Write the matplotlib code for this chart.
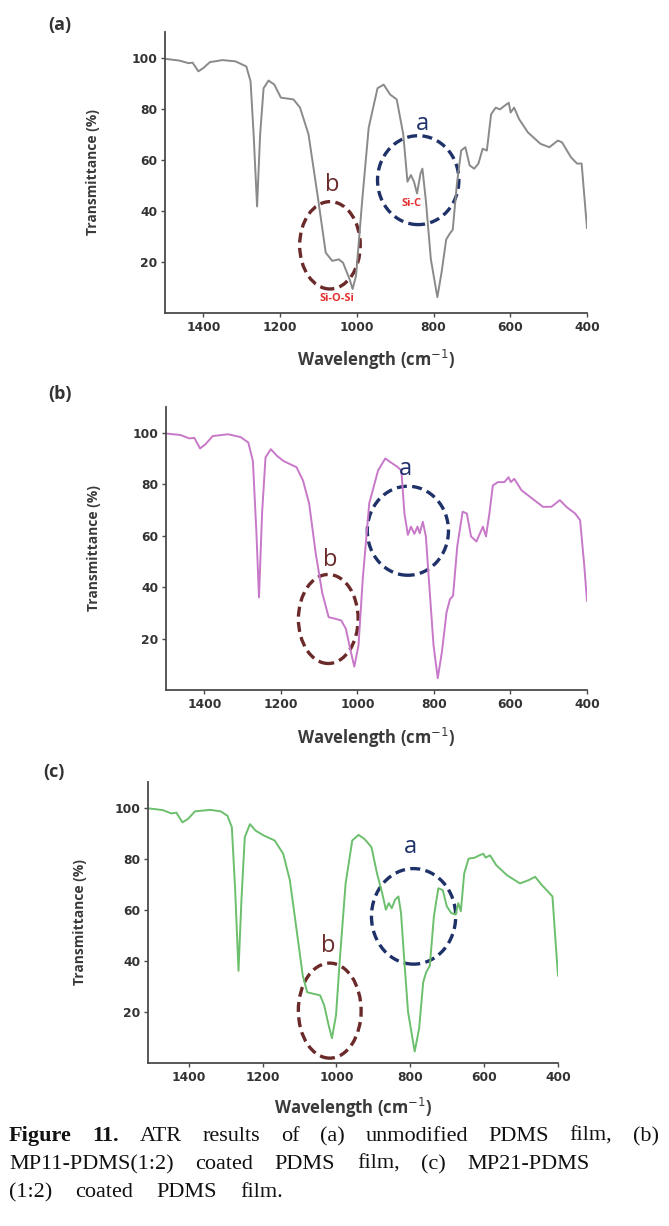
import matplotlib
matplotlib.use('Agg')
import matplotlib.pyplot as plt
from matplotlib.patches import Ellipse

# ---- data (wavenumber cm-1, transmittance %) ----
wn_a = [1500, 1462, 1439, 1428, 1413, 1400, 1383, 1350, 1316, 1288, 1277, 1269, 1260, 1252, 1243, 1230,
        1215, 1198, 1165, 1148, 1126, 1103, 1081, 1064, 1047, 1036, 1019, 1011, 1002, 986, 969, 946,
        930, 913, 896, 879, 868, 859, 851, 843, 834, 829, 820, 807, 790, 779, 767, 758, 750, 739,
        728, 717, 706, 694, 683, 672, 661, 650, 638, 627, 616, 604, 599, 590, 577, 554, 521, 498,
        476, 465, 442, 426, 414, 406, 400]
t_a = [99.5, 98.8, 97.8, 98.0, 94.6, 95.9, 98.2, 99.0, 98.5, 96.5, 90.7, 70.0, 41.7, 70.0, 88.0, 91.0,
       89.4, 84.3, 83.6, 80.4, 70.0, 46.8, 23.6, 20.4, 21.0, 19.7, 13.3, 9.4, 14.6, 44.0, 72.6, 88.0,
       89.4, 85.5, 83.6, 70.0, 51.4, 54.0, 51.4, 46.8, 54.6, 56.5, 44.0, 21.0, 6.2, 16.0, 28.8, 31.0, 32.6, 50.7,
       63.6, 64.9, 57.8, 56.5, 58.5, 64.3, 63.6, 77.8, 80.4, 79.7, 81.0, 82.3, 78.5, 80.4, 75.9, 70.7, 66.2, 64.9,
       67.5, 66.8, 61.0, 58.5, 58.5, 44.0, 33.3]

wn_b = [1500, 1462, 1439, 1426, 1411, 1397, 1378, 1338, 1305, 1285, 1273, 1264, 1257, 1249, 1240, 1226,
        1210, 1193, 1159, 1142, 1126, 1109, 1092, 1075, 1058, 1042, 1030, 1019, 1008, 997, 986, 969,
        946, 927, 913, 896, 885, 877, 868, 860, 851, 843, 837, 829, 821, 812, 801, 790, 779, 767,
        758, 750, 739, 725, 714, 703, 689, 672, 664, 655, 646, 633, 616, 605, 599, 590, 571, 543,
        515, 493, 471, 454, 431, 418, 407, 400]
t_b = [99.7, 99.1, 97.8, 98.0, 93.9, 95.5, 98.7, 99.4, 98.3, 96.2, 89.0, 62.0, 36.0, 68.6, 90.4, 93.6,
       91.0, 89.0, 86.6, 81.4, 72.5, 53.3, 37.9, 28.3, 27.7, 27.0, 23.8, 16.1, 9.1, 17.4, 43.0, 72.5,
       85.3, 90.0, 88.5, 86.8, 85.3, 68.6, 60.3, 63.5, 60.7, 63.5, 60.9, 65.4, 59.7, 40.5, 17.4, 4.6, 14.9, 30.2,
       35.3, 36.6, 55.8, 69.3, 68.6, 59.7, 57.7, 63.5, 59.7, 68.6, 79.5, 80.8, 80.8, 82.7, 80.8, 82.1, 77.6, 74.4,
       71.2, 71.2, 73.8, 71.2, 68.6, 66.0, 48.1, 34.7]

wn_c = [1510, 1470, 1447, 1433, 1417, 1402, 1383, 1342, 1313, 1295, 1283, 1274, 1265, 1257, 1248, 1234,
        1219, 1196, 1167, 1144, 1126, 1109, 1091, 1079, 1062, 1044, 1033, 1021, 1012, 1001, 990, 975,
        957, 940, 924, 905, 890, 876, 866, 858, 850, 841, 832, 825, 817, 806, 788, 776, 765, 757,
        747, 736, 724, 712, 701, 689, 677, 670, 663, 654, 642, 625, 613, 602, 596, 584, 567, 538,
        503, 479, 462, 444, 427, 415, 407, 400]
t_c = [99.7, 99.0, 97.7, 98.0, 94.2, 95.5, 98.5, 99.1, 98.5, 96.8, 92.3, 67.7, 36.1, 63.9, 88.4, 93.5,
       91.0, 89.0, 87.1, 81.9, 71.6, 53.5, 34.2, 27.7, 27.1, 26.5, 22.6, 14.8, 9.7, 18.7, 41.9, 70.3,
       87.1, 89.3, 87.7, 84.5, 74.2, 66.5, 60.0, 62.6, 60.6, 63.9, 65.2, 58.7, 41.9, 20.0, 4.5, 13.5, 31.6, 35.5,
       38.1, 57.4, 68.4, 67.7, 61.3, 58.7, 58.1, 62.6, 59.4, 74.2, 80.0, 80.4, 81.3, 81.9, 80.4, 81.3, 77.4, 73.5,
       70.3, 71.6, 72.9, 69.7, 67.1, 65.2, 48.4, 34.2]

xticks = [1400, 1200, 1000, 800, 600, 400]
yticks = [20, 40, 60, 80, 100]

# ellipse marks: (center wn, center T, width, height)
ell_a = {'a': (840, 52.0, 212, 34.8), 'b': (1070, 26.5, 158, 34.2)}
ell_b = {'a': (868, 61.9, 212, 34.6), 'b': (1076, 27.6, 156, 34.6)}
ell_c = {'a': (791, 57.4, 228, 37.4), 'b': (1018, 20.5, 170, 37.2)}
lbl_a = {'a': (829, 74.0), 'b': (1064, 50.0)}
lbl_b = {'a': (874, 86.0), 'b': (1070, 50.7)}
lbl_c = {'a': (800, 84.5), 'b': (1021, 45.8)}

W, H = 669, 1226
fig = plt.figure(figsize=(W / 100, H / 100), dpi=100)

NAVY = '#1e3168'
BROWN = '#6b2a2a'
LABEL_FONT = ['Open Sans', 'DejaVu Sans']


def make_axes(left, right, top, bottom):
    return fig.add_axes([left / W, 1 - bottom / H, (right - left) / W, (bottom - top) / H])


def spectrum(ax, wn, t, color, xlim, ells, lbls, panel, ylab_x, xlab_y, letter_xy):
    ax.plot(wn, t, color=color, lw=1.4)
    ax.set_xlim(*xlim)
    ax.set_ylim(0, 110)
    ax.set_xticks(xticks)
    ax.set_yticks(yticks)
    for s in ['top', 'right']:
        ax.spines[s].set_visible(False)
    for s in ['left', 'bottom']:
        ax.spines[s].set_color('#4a4a4a')
        ax.spines[s].set_linewidth(1.3)
    ax.tick_params(direction='out', length=3, width=1, colors='#4a4a4a', labelcolor='#333333', pad=2.5)
    for lab in ax.get_xticklabels() + ax.get_yticklabels():
        lab.set_fontweight('bold')
        lab.set_fontsize(8.8)
        lab.set_family('DejaVu Sans')
    ax.set_ylabel('Transmittance (%)', fontsize=10, fontweight='bold', color='#3a3a3a', family=LABEL_FONT,
                  va='center')
    ax.set_xlabel('Wavelength (cm$^{-1}$)', fontsize=12, fontweight='bold', color='#3a3a3a', family=LABEL_FONT,
                  va='center')
    ax.yaxis.set_label_coords(ylab_x, 0.5)
    ax.xaxis.set_label_coords(0.5, xlab_y)

    for key, col in [('a', NAVY), ('b', BROWN)]:
        cx, cy, w, h = ells[key]
        ax.add_patch(Ellipse((cx, cy), w, h, fill=False, edgecolor=col, lw=2.4,
                             linestyle=(0, (3, 1.6)), clip_on=False))
        lx, ly = lbls[key]
        ax.text(lx, ly, key, color=col, fontsize=17, ha='center', va='center', family=LABEL_FONT)

    fig.text(letter_xy[0] / W, 1 - letter_xy[1] / H, panel, fontsize=13, fontweight='bold', ha='center',
             va='center', family=LABEL_FONT, color='#333333')


ax1 = make_axes(165, 587, 32, 313)
spectrum(ax1, wn_a, t_a, '#8a8a8a', (1500, 400), ell_a, lbl_a, '(a)', -0.171, -0.168, (60, 25))
ax1.text(857, 42.7, 'Si-C', color='#e53030', fontsize=8, fontweight='bold', ha='center', va='center',
         family=LABEL_FONT)
ax1.text(1053, 5.5, 'Si-O-Si', color='#e53030', fontsize=8, fontweight='bold', ha='center', va='center',
         family=LABEL_FONT)

ax2 = make_axes(166, 587, 407, 690)
spectrum(ax2, wn_b, t_b, '#c878c8', (1500, 400), ell_b, lbl_b, '(b)', -0.171, -0.170, (60, 394))

ax3 = make_axes(148, 558, 782, 1063)
spectrum(ax3, wn_c, t_c, '#6cbf6c', (1510, 400), ell_c, lbl_c, '(c)', -0.166, -0.160, (54, 772))

# ---- caption, justified word by word ----
caption = [
    ([('Figure', 'bold'), ('11.', 'bold'), 'ATR', 'results', 'of', '(a)', 'unmodified', 'PDMS', 'film,', '(b)'],
     9, 659, 1141),
    (['MP11-PDMS(1:2)', 'coated', 'PDMS', 'film,', '(c)', 'MP21-PDMS'], 9, 590, 1169),
    (['(1:2)', 'coated', 'PDMS', 'film.'], 9, 283, 1197),
]
fig.canvas.draw()
renderer = fig.canvas.get_renderer()
for words, x0, x1, yb in caption:
    texts = []
    for w in words:
        word, weight = (w if isinstance(w, tuple) else (w, 'normal'))
        texts.append(fig.text(0, 1 - yb / H, word, fontsize=16, fontweight=weight,
                              family='Liberation Serif', va='baseline', ha='left', color='#111111'))
    widths = [t.get_window_extent(renderer).width for t in texts]
    gap = (x1 - x0 - sum(widths)) / (len(texts) - 1)
    x = x0
    for t, wd in zip(texts, widths):
        t.set_x(x / W)
        x += wd + gap

fig.savefig('out.png', dpi=100)
